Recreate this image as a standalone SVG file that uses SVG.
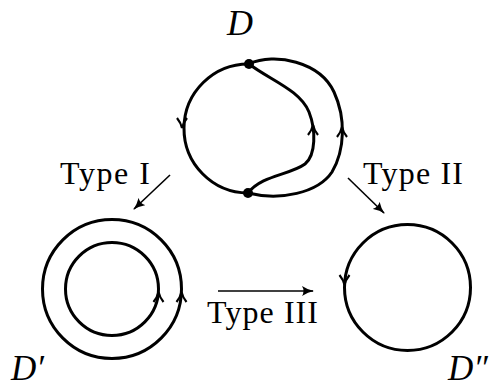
<svg xmlns="http://www.w3.org/2000/svg" width="498" height="388" viewBox="0 0 498 388">
<style>
.c{fill:none;stroke:#000;stroke-width:3}
.ch{fill:none;stroke:#000;stroke-width:2.2}
.conn{stroke:#000;stroke-width:1.6;fill:none}
.lbl{font-family:"Liberation Serif",serif;font-size:32px;fill:#000}
.dl{font-family:"Liberation Serif",serif;font-style:italic;font-size:36px;fill:#000}
.dl2{font-family:"Liberation Serif",serif;font-style:italic;font-size:35px;fill:#000}
</style>
<defs>
<marker id="ah" viewBox="0 0 12 10" refX="11" refY="5" markerWidth="12" markerHeight="10" markerUnits="userSpaceOnUse" orient="auto">
<path d="M0,0 Q6,4 12,5 Q6,6 0,10 Q3,5 0,0Z" fill="#000"/>
</marker>
<path id="up" d="M-5,6 Q-1,1 0,-4 Q1,1 5,6"/>
<path id="down" d="M-5,-6 Q-1,-1 0,4 Q1,-1 5,-6"/>
</defs>
<rect width="498" height="388" fill="#fff"/>
<g id="nodeD">
<text class="dl" x="227" y="35">D</text>
<path class="c" d="M249,64 A64.5,64.5 0 1 0 248,193"/>
<path class="c" d="M249,64 C275,52 320,62 334,92 C346,118 345,150 332,172 C318,193 280,201 248,193"/>
<path class="c" d="M249,64 C270,80 300,90 309,112 C316,130 316,155 305,164 C290,175 262,175 248,193"/>
<circle cx="249" cy="64" r="5"/>
<circle cx="248" cy="193" r="5"/>
<use href="#down" class="ch" x="182" y="124"/>
<use href="#up" class="ch" x="313" y="129"/>
<use href="#up" class="ch" x="342" y="131"/>
</g>
<g id="nodeD1">
<circle class="c" cx="112" cy="289" r="69.5"/>
<circle class="c" cx="112" cy="289" r="46.5"/>
<use href="#up" class="ch" x="158.5" y="296"/>
<use href="#up" class="ch" x="181.5" y="296"/>
<text class="dl2" x="11" y="380">D′</text>
</g>
<g id="nodeD2">
<circle class="c" cx="407.5" cy="287.5" r="63"/>
<use href="#down" class="ch" x="344.5" y="281"/>
<text class="dl2" x="448" y="380">D″</text>
</g>
<g id="connectors">
<line class="conn" x1="170" y1="175" x2="134" y2="209" marker-end="url(#ah)"/>
<text class="lbl" x="60" y="184" textLength="90" lengthAdjust="spacing">Type I</text>
<line class="conn" x1="348" y1="178" x2="384" y2="213" marker-end="url(#ah)"/>
<text class="lbl" x="363" y="184" textLength="100" lengthAdjust="spacing">Type II</text>
<line class="conn" x1="218" y1="291" x2="313" y2="291" marker-end="url(#ah)"/>
<text class="lbl" x="207" y="323" textLength="111" lengthAdjust="spacing">Type III</text>
</g>
</svg>
